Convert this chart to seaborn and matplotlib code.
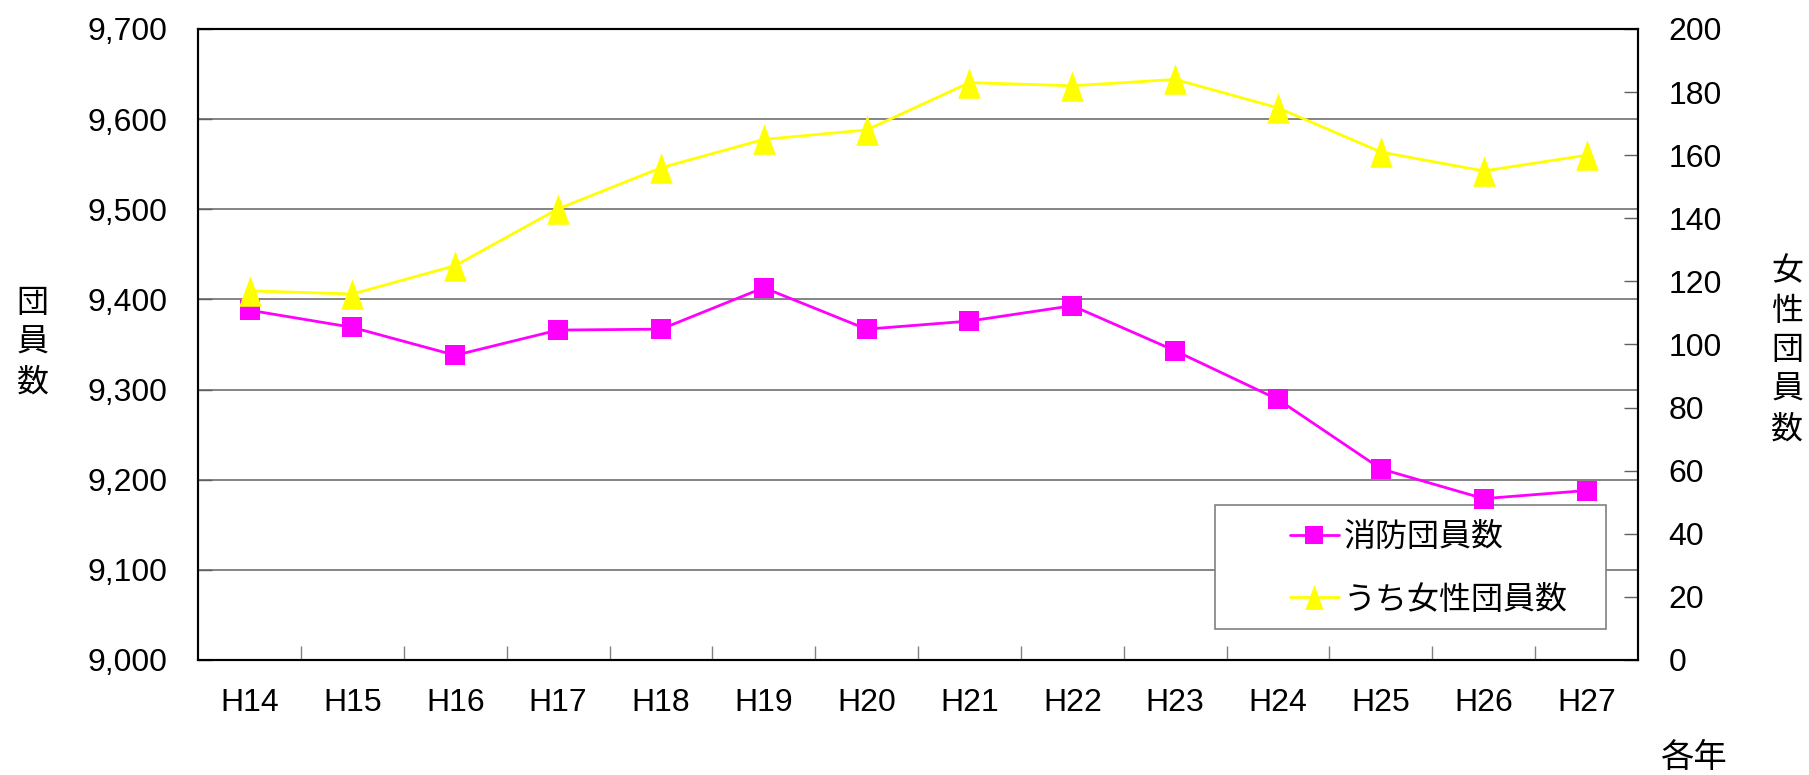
import pandas as pd
import matplotlib
matplotlib.use("Agg")
import matplotlib.pyplot as plt
from matplotlib.patches import Rectangle
import seaborn as sns

# 年度
years = ["H14", "H15", "H16", "H17", "H18", "H19", "H20",
         "H21", "H22", "H23", "H24", "H25", "H26", "H27"]
# 消防団員数 (左軸)
members = [9388, 9369, 9338, 9366, 9367, 9413, 9367,
           9376, 9393, 9343, 9289, 9212, 9179, 9188]
# うち女性団員数 (右軸)
women = [117, 116, 125, 143, 156, 165, 168,
         183, 182, 184, 175, 161, 155, 160]

df = pd.DataFrame({"year": years, "members": members, "women": women})

sns.set_style("white")
plt.rcParams["font.family"] = ["Liberation Sans", "Noto Sans CJK JP", "DejaVu Sans"]
plt.rcParams["text.color"] = "black"
plt.rcParams["xtick.color"] = "black"
plt.rcParams["ytick.color"] = "black"
jp = ["Noto Sans CJK JP", "DejaVu Sans"]

fig = plt.figure(figsize=(18.09, 7.75), dpi=100)
ax = fig.add_axes([0.1095, 0.1484, 0.796, 0.8142])
ax2 = ax.twinx()

sns.lineplot(data=df, x="year", y="members", ax=ax, color="#FF00FF",
             marker="s", markersize=14.5, markeredgewidth=0, linewidth=2,
             label="消防団員数", legend=False, zorder=3)
tri = [(0, 1.36), (-1, -1.36), (1, -1.36)]
sns.lineplot(data=df, x="year", y="women", ax=ax2, color="#FFFF00",
             marker=tri, markersize=22, markeredgewidth=0, linewidth=2,
             label="うち女性団員数", legend=False, zorder=3)

ax.set_xlim(-0.5, len(years) - 0.5)
ax.set_ylim(9000, 9700)
ax.set_yticks(range(9000, 9701, 100))
ax.set_yticklabels([f"{v:,}" for v in range(9000, 9701, 100)])
ax2.set_ylim(0, 200)
ax2.set_yticks(range(0, 201, 20))

ax.set_xticks(range(len(years)))
ax.set_xticklabels(years)
ax.set_xticks([i + 0.5 for i in range(len(years) - 1)], minor=True)
ax.tick_params(axis="x", which="major", length=0, pad=20, labelsize=23)
ax.tick_params(axis="x", which="minor", direction="in", length=10,
               width=1, color="#808080", bottom=True)
ax.tick_params(axis="y", direction="in", length=10, width=1, color="#606060",
               pad=22, labelsize=23, left=True)
ax2.tick_params(axis="y", direction="in", length=10, width=1, color="#606060",
                pad=22, labelsize=23, right=True)

ax.grid(axis="y", color="#707070", linewidth=1.2)
ax.set_axisbelow(True)
for a in (ax, ax2):
    for s in a.spines.values():
        s.set_color("black")
        s.set_linewidth(1.5)

ax.set_xlabel("")
ax.set_ylabel("")
ax2.set_ylabel("")
fig.text(0.018, 0.558, "団\n員\n数", family=jp, fontsize=23,
         ha="center", va="center", linespacing=1.3)
fig.text(0.988, 0.548, "女\n性\n団\n員\n数", family=jp, fontsize=23,
         ha="center", va="center", linespacing=1.3)
fig.text(0.936, 0.023, "各年", family=jp, fontsize=24, ha="center", va="center")

# 凡例の枠（折れ線のマーカーの下に描く）
box = Rectangle((0.706, 0.049), 0.272, 0.1966, transform=ax.transAxes,
                facecolor="white", edgecolor="#808080", linewidth=1.2, zorder=1)
ax.add_patch(box)

h1, l1 = ax.get_legend_handles_labels()
h2, l2 = ax2.get_legend_handles_labels()
leg = ax.legend(h1 + h2, l1 + l2, loc="center left",
                bbox_to_anchor=(0.758, 0.145),
                prop={"family": jp, "size": 23}, frameon=False,
                labelspacing=0.95, borderpad=0, handlelength=1.55,
                handletextpad=0.15, borderaxespad=0)
leg.set_zorder(1.5)
leg.legend_handles[0].set_markersize(13)
leg.legend_handles[1].set_markersize(18)

fig.savefig("out.png", dpi=100)
